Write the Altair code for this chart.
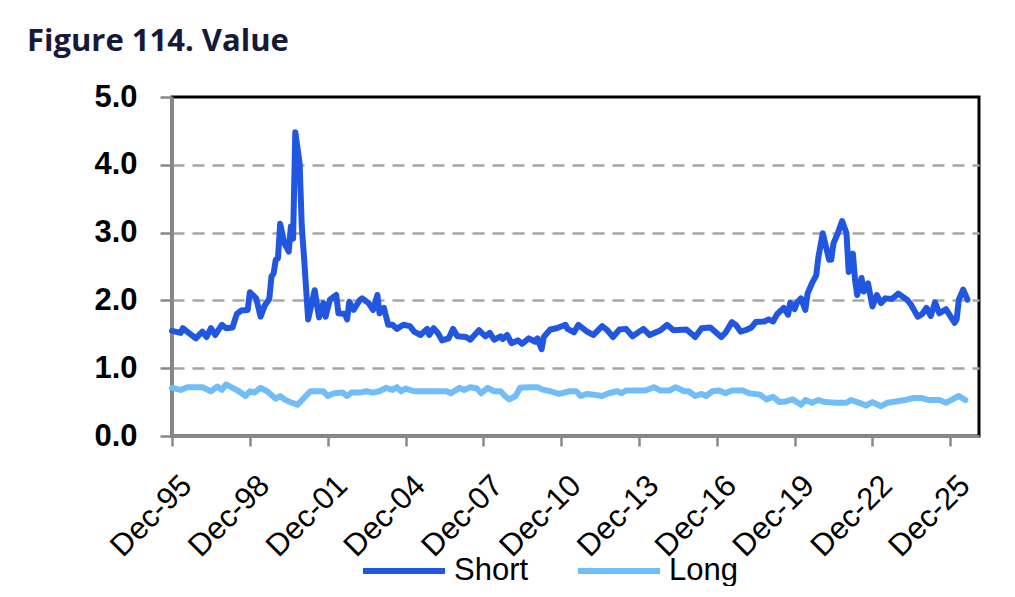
import pandas as pd
import altair as alt

# Short series (month, value)
short_dates = [
    "1995-12", "1996-04", "1996-05", "1996-07", "1996-11", "1997-02", "1997-04", "1997-06",
    "1997-08", "1997-11", "1998-01", "1998-04", "1998-06", "1998-08", "1998-11", "1998-12",
    "1999-03", "1999-05", "1999-07", "1999-09", "1999-10", "1999-11", "1999-12", "2000-01",
    "2000-02", "2000-04", "2000-06", "2000-07", "2000-08", "2000-09", "2000-11", "2000-12",
    "2001-01", "2001-03", "2001-06", "2001-08", "2001-10", "2001-11", "2002-01", "2002-04",
    "2002-05", "2002-08", "2002-09", "2002-10", "2002-12", "2003-03", "2003-04", "2003-07",
    "2003-09", "2003-11", "2003-12", "2004-02", "2004-04", "2004-06", "2004-08", "2004-11",
    "2005-02", "2005-04", "2005-07", "2005-10", "2005-11", "2006-01", "2006-03", "2006-05",
    "2006-08", "2006-10", "2006-12", "2007-04", "2007-06", "2007-10", "2008-01", "2008-03",
    "2008-05", "2008-08", "2008-09", "2008-11", "2009-01", "2009-04", "2009-06", "2009-09",
    "2009-12", "2010-01", "2010-03", "2010-04", "2010-07", "2010-10", "2011-02", "2011-03",
    "2011-06", "2011-08", "2011-12", "2012-03", "2012-07", "2012-09", "2012-12", "2013-03",
    "2013-06", "2013-09", "2014-02", "2014-05", "2014-10", "2015-01", "2015-04", "2015-10",
    "2016-02", "2016-05", "2016-09", "2017-02", "2017-04", "2017-07", "2017-09", "2017-11",
    "2018-02", "2018-04", "2018-06", "2018-10", "2018-12", "2019-02", "2019-04", "2019-07",
    "2019-09", "2019-10", "2019-12", "2020-01", "2020-03", "2020-05", "2020-06", "2020-08",
    "2020-10", "2020-11", "2021-01", "2021-04", "2021-05", "2021-06", "2021-08", "2021-10",
    "2021-12", "2022-01", "2022-03", "2022-04", "2022-05", "2022-07", "2022-08", "2022-10",
    "2022-12", "2023-02", "2023-04", "2023-06", "2023-09", "2023-12", "2024-04", "2024-06",
    "2024-09", "2024-11", "2025-01", "2025-03", "2025-05", "2025-07", "2025-10", "2025-11",
    "2026-02", "2026-03", "2026-04", "2026-06", "2026-08",
]
short_values = [
    1.55, 1.52, 1.59, 1.54, 1.44, 1.54, 1.46, 1.59,
    1.49, 1.64, 1.59, 1.60, 1.80, 1.85, 1.86, 2.12,
    2.03, 1.76, 1.93, 2.02, 2.35, 2.40, 2.60, 2.62,
    3.13, 2.84, 2.72, 3.09, 2.91, 4.48, 4.02, 3.10,
    2.65, 1.72, 2.15, 1.75, 1.96, 1.76, 2.01, 2.08,
    1.81, 1.80, 1.72, 1.98, 1.86, 2.01, 2.03, 1.96,
    1.86, 2.08, 1.81, 1.89, 1.64, 1.64, 1.58, 1.64,
    1.62, 1.54, 1.49, 1.58, 1.49, 1.59, 1.52, 1.41,
    1.44, 1.58, 1.47, 1.46, 1.42, 1.56, 1.47, 1.52,
    1.42, 1.47, 1.43, 1.49, 1.37, 1.41, 1.36, 1.44,
    1.39, 1.44, 1.28, 1.46, 1.57, 1.59, 1.64, 1.58,
    1.53, 1.64, 1.54, 1.49, 1.62, 1.57, 1.46, 1.57,
    1.58, 1.47, 1.58, 1.49, 1.56, 1.64, 1.56, 1.57,
    1.46, 1.59, 1.60, 1.46, 1.52, 1.68, 1.63, 1.54,
    1.57, 1.60, 1.68, 1.69, 1.72, 1.69, 1.80, 1.89,
    1.79, 1.97, 1.87, 1.96, 2.03, 1.86, 2.10, 2.25,
    2.37, 2.64, 2.99, 2.60, 2.60, 2.84, 2.99, 3.17,
    2.99, 2.42, 2.69, 2.30, 2.08, 2.33, 2.13, 2.25,
    1.91, 2.08, 1.96, 2.03, 2.02, 2.10, 2.01, 1.93,
    1.76, 1.80, 1.89, 1.77, 1.97, 1.81, 1.87, 1.82,
    1.67, 1.72, 2.01, 2.16, 2.01,
]

# Long series
long_dates = [
    "1995-12", "1996-04", "1996-07", "1997-02", "1997-06", "1997-09", "1997-11", "1998-01",
    "1998-04", "1998-07", "1998-10", "1998-12", "1999-02", "1999-05", "1999-08", "1999-12",
    "2000-02", "2000-04", "2000-06", "2000-10", "2001-01", "2001-04", "2001-07", "2001-10",
    "2001-12", "2002-03", "2002-07", "2002-09", "2002-11", "2003-03", "2003-06", "2003-09",
    "2003-12", "2004-03", "2004-06", "2004-08", "2004-10", "2004-12", "2005-04", "2005-10",
    "2006-07", "2006-09", "2007-01", "2007-03", "2007-06", "2007-09", "2007-11", "2008-02",
    "2008-05", "2008-08", "2008-10", "2008-12", "2009-03", "2009-05", "2009-09", "2010-01",
    "2010-04", "2010-07", "2010-11", "2011-04", "2011-07", "2011-09", "2011-12", "2012-03",
    "2012-07", "2012-10", "2013-02", "2013-04", "2013-06", "2014-03", "2014-07", "2014-10",
    "2015-02", "2015-05", "2015-09", "2015-11", "2016-02", "2016-05", "2016-07", "2016-10",
    "2017-01", "2017-04", "2017-07", "2017-12", "2018-03", "2018-08", "2018-11", "2019-02",
    "2019-05", "2019-08", "2019-11", "2020-03", "2020-05", "2020-08", "2020-11", "2021-02",
    "2021-07", "2021-12", "2022-02", "2022-06", "2022-09", "2022-12", "2023-04", "2023-07",
    "2023-11", "2024-03", "2024-07", "2024-11", "2025-02", "2025-07", "2025-10", "2026-01",
    "2026-04", "2026-07",
]
long_values = [
    0.71, 0.68, 0.72, 0.72, 0.66, 0.73, 0.68, 0.76,
    0.71, 0.66, 0.59, 0.66, 0.64, 0.71, 0.66, 0.55,
    0.59, 0.54, 0.51, 0.46, 0.56, 0.66, 0.66, 0.66,
    0.59, 0.63, 0.64, 0.59, 0.64, 0.64, 0.66, 0.64,
    0.66, 0.71, 0.68, 0.72, 0.66, 0.70, 0.66, 0.66,
    0.66, 0.63, 0.71, 0.68, 0.72, 0.70, 0.63, 0.71,
    0.66, 0.66, 0.59, 0.54, 0.59, 0.71, 0.72, 0.72,
    0.68, 0.66, 0.62, 0.66, 0.66, 0.59, 0.62, 0.61,
    0.59, 0.63, 0.66, 0.63, 0.67, 0.67, 0.72, 0.67,
    0.67, 0.72, 0.66, 0.66, 0.59, 0.62, 0.59, 0.66,
    0.67, 0.63, 0.67, 0.67, 0.63, 0.61, 0.54, 0.58,
    0.50, 0.51, 0.54, 0.46, 0.53, 0.49, 0.53, 0.50,
    0.49, 0.49, 0.53, 0.49, 0.45, 0.50, 0.44, 0.49,
    0.51, 0.53, 0.56, 0.56, 0.53, 0.53, 0.49, 0.54,
    0.59, 0.53,
]

series_names = ["Short", "Long"]
series_colors = ["#2157E0", "#70BDF7"]

df = pd.concat([
    pd.DataFrame({"date": [d + "-01" for d in short_dates], "value": short_values, "series": "Short"}),
    pd.DataFrame({"date": [d + "-01" for d in long_dates], "value": long_values, "series": "Long"}),
])

tick_years = list(range(1995, 2026, 3))
x_ticks = [alt.DateTime(year=y, month=12, date=1, utc=True) for y in tick_years]

chart = alt.Chart(df).mark_line(
    strokeWidth=6, strokeJoin="round", strokeCap="round"
).encode(
    x=alt.X("date:T",
            scale=alt.Scale(type="utc",
                            domain=[alt.DateTime(year=1995, month=12, date=1, utc=True),
                                    alt.DateTime(year=2027, month=1, date=10, utc=True)]),
            axis=alt.Axis(values=x_ticks, labelExpr="utcFormat(datum.value, '%b-%y')",
                          title=None, labelOverlap=False,
                          labelAngle=315, labelAlign="right", labelBaseline="top",
                          labelPadding=24, labelOffset=4, labelFont="Liberation Sans",
                          labelFontSize=31,
                          labelColor="black", tickSize=10, tickWidth=2.5, tickColor="#888888",
                          domainColor="#888888", domainWidth=3, grid=False)),
    y=alt.Y("value:Q",
            scale=alt.Scale(domain=[0, 5], nice=False),
            axis=alt.Axis(values=[0, 1, 2, 3, 4, 5], format=".1f", title=None,
                          labelFont="Liberation Sans", labelFontWeight="bold",
                          labelFontSize=31, labelColor="black", labelPadding=23,
                          tickSize=12, tickWidth=2.5, tickColor="#888888",
                          domainColor="#888888", domainWidth=3,
                          grid=True, gridDash=[12, 8], gridColor="#A6A6A6", gridWidth=2.5,
                          gridOpacity={"condition": {"test": "datum.value >= 5 || datum.value <= 0",
                                                     "value": 0}, "value": 1})),
    color=alt.Color("series:N",
                    scale=alt.Scale(domain=series_names, range=series_colors),
                    legend=alt.Legend(title=None, orient="none", legendX=188, legendY=430,
                                      direction="horizontal", symbolType="stroke",
                                      symbolSize=6724, symbolStrokeWidth=6,
                                      labelFont="Liberation Sans", labelFontSize=31,
                                      labelColor="black",
                                      labelOffset=6, columnPadding=37, padding=0)),
).properties(
    width=807,
    height=339,
    autosize=alt.AutoSizeParams(type="none"),
    padding={"left": 164, "top": 89, "right": 20, "bottom": 150},
    title=alt.TitleParams("Figure 114. Value", anchor="start", frame="group", dx=-145, dy=31,
                          offset=30, baseline="alphabetic", font="Open Sans", fontSize=31,
                          fontWeight="bold", color="#161A3A"),
).configure_view(
    stroke="black",
    strokeWidth=3
)

chart.save("out.html", embed_options={"renderer": "svg", "actions": False})
